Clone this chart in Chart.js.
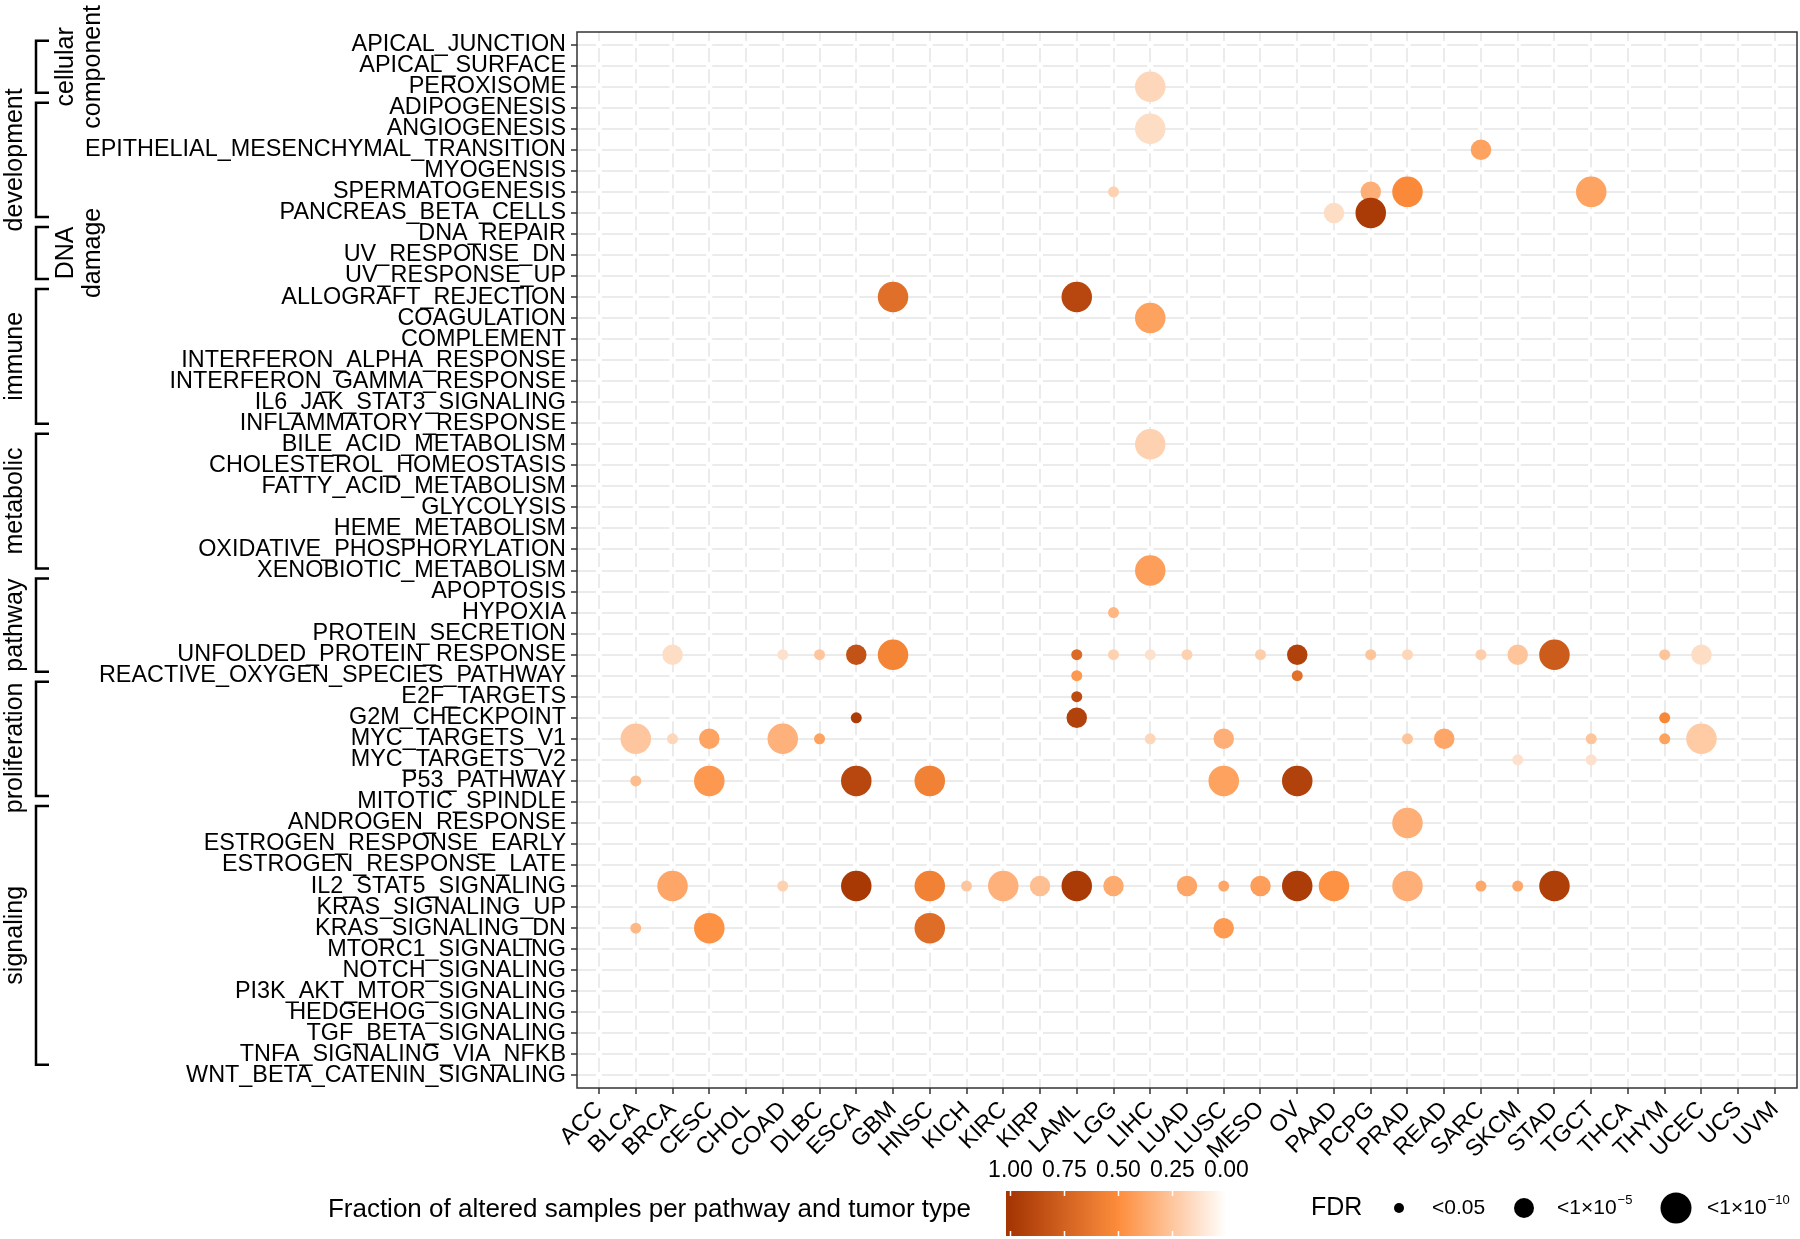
<!DOCTYPE html>
<html>
<head>
<meta charset="utf-8">
<script src="https://cdn.jsdelivr.net/npm/chart.js@4.4.1/dist/chart.umd.min.js"></script>
<style>
  html, body { margin: 0; padding: 0; background: #fff; }
  #chart { display: block; }
</style>
</head>
<body>
<canvas id="chart" width="1800" height="1239"></canvas>
<script>
const FONT = "'Liberation Sans', Arial, Helvetica, sans-serif";

const tumorTypes = ['ACC', 'BLCA', 'BRCA', 'CESC', 'CHOL', 'COAD', 'DLBC', 'ESCA', 'GBM', 'HNSC',
    'KICH', 'KIRC', 'KIRP', 'LAML', 'LGG', 'LIHC', 'LUAD', 'LUSC', 'MESO', 'OV', 'PAAD', 'PCPG',
    'PRAD', 'READ', 'SARC', 'SKCM', 'STAD', 'TGCT', 'THCA', 'THYM', 'UCEC', 'UCS', 'UVM'];

const pathways = ['APICAL_JUNCTION', 'APICAL_SURFACE', 'PEROXISOME', 'ADIPOGENESIS', 'ANGIOGENESIS',
    'EPITHELIAL_MESENCHYMAL_TRANSITION', 'MYOGENSIS', 'SPERMATOGENESIS', 'PANCREAS_BETA_CELLS',
    'DNA_REPAIR', 'UV_RESPONSE_DN', 'UV_RESPONSE_UP', 'ALLOGRAFT_REJECTION', 'COAGULATION',
    'COMPLEMENT', 'INTERFERON_ALPHA_RESPONSE', 'INTERFERON_GAMMA_RESPONSE', 'IL6_JAK_STAT3_SIGNALING',
    'INFLAMMATORY_RESPONSE', 'BILE_ACID_METABOLISM', 'CHOLESTEROL_HOMEOSTASIS', 'FATTY_ACID_METABOLISM',
    'GLYCOLYSIS', 'HEME_METABOLISM', 'OXIDATIVE_PHOSPHORYLATION', 'XENOBIOTIC_METABOLISM', 'APOPTOSIS',
    'HYPOXIA', 'PROTEIN_SECRETION', 'UNFOLDED_PROTEIN_RESPONSE', 'REACTIVE_OXYGEN_SPECIES_PATHWAY',
    'E2F_TARGETS', 'G2M_CHECKPOINT', 'MYC_TARGETS_V1', 'MYC_TARGETS_V2', 'P53_PATHWAY',
    'MITOTIC_SPINDLE', 'ANDROGEN_RESPONSE', 'ESTROGEN_RESPONSE_EARLY', 'ESTROGEN_RESPONSE_LATE',
    'IL2_STAT5_SIGNALING', 'KRAS_SIGNALING_UP', 'KRAS_SIGNALING_DN', 'MTORC1_SIGNALING',
    'NOTCH_SIGNALING', 'PI3K_AKT_MTOR_SIGNALING', 'HEDGEHOG_SIGNALING', 'TGF_BETA_SIGNALING',
    'TNFA_SIGNALING_VIA_NFKB', 'WNT_BETA_CATENIN_SIGNALING'];

// pathway groups, top to bottom
const groupNames = [['cellular', 'component'], ['development'], ['DNA', 'damage'], ['immune'],
    ['metabolic'], ['pathway'], ['proliferation'], ['signaling']];
const groupSizes = [3, 6, 3, 7, 7, 5, 6, 13];

const colorbarTicks = [1.00, 0.75, 0.50, 0.25, 0.00];
const fdrLegendText = ['<0.05', '<1\u00d710', '<1\u00d710'];
const fdrLegendExp = ['', '\u22125', '\u221210'];

// [tumor type, pathway, fraction of altered samples]
const fdrBelow005 = [
    ['LGG', 'SPERMATOGENESIS', 0.20],
    ['LGG', 'HYPOXIA', 0.32],
    ['COAD', 'UNFOLDED_PROTEIN_RESPONSE', 0.13],
    ['DLBC', 'UNFOLDED_PROTEIN_RESPONSE', 0.25],
    ['LAML', 'UNFOLDED_PROTEIN_RESPONSE', 0.70],
    ['LGG', 'UNFOLDED_PROTEIN_RESPONSE', 0.20],
    ['LIHC', 'UNFOLDED_PROTEIN_RESPONSE', 0.13],
    ['LUAD', 'UNFOLDED_PROTEIN_RESPONSE', 0.20],
    ['MESO', 'UNFOLDED_PROTEIN_RESPONSE', 0.22],
    ['PCPG', 'UNFOLDED_PROTEIN_RESPONSE', 0.26],
    ['PRAD', 'UNFOLDED_PROTEIN_RESPONSE', 0.18],
    ['SARC', 'UNFOLDED_PROTEIN_RESPONSE', 0.22],
    ['THYM', 'UNFOLDED_PROTEIN_RESPONSE', 0.26],
    ['LAML', 'REACTIVE_OXYGEN_SPECIES_PATHWAY', 0.45],
    ['OV', 'REACTIVE_OXYGEN_SPECIES_PATHWAY', 0.66],
    ['LAML', 'E2F_TARGETS', 0.88],
    ['ESCA', 'G2M_CHECKPOINT', 0.96],
    ['THYM', 'G2M_CHECKPOINT', 0.53],
    ['BRCA', 'MYC_TARGETS_V1', 0.18],
    ['DLBC', 'MYC_TARGETS_V1', 0.41],
    ['LIHC', 'MYC_TARGETS_V1', 0.18],
    ['PRAD', 'MYC_TARGETS_V1', 0.26],
    ['TGCT', 'MYC_TARGETS_V1', 0.26],
    ['THYM', 'MYC_TARGETS_V1', 0.41],
    ['SKCM', 'MYC_TARGETS_V2', 0.13],
    ['TGCT', 'MYC_TARGETS_V2', 0.13],
    ['BLCA', 'P53_PATHWAY', 0.29],
    ['COAD', 'IL2_STAT5_SIGNALING', 0.20],
    ['KICH', 'IL2_STAT5_SIGNALING', 0.25],
    ['LUSC', 'IL2_STAT5_SIGNALING', 0.39],
    ['SARC', 'IL2_STAT5_SIGNALING', 0.38],
    ['SKCM', 'IL2_STAT5_SIGNALING', 0.38],
    ['BLCA', 'KRAS_SIGNALING_DN', 0.31]
];

const fdrBelow1e5 = [
    ['SARC', 'EPITHELIAL_MESENCHYMAL_TRANSITION', 0.41],
    ['PCPG', 'SPERMATOGENESIS', 0.35],
    ['PAAD', 'PANCREAS_BETA_CELLS', 0.15],
    ['BRCA', 'UNFOLDED_PROTEIN_RESPONSE', 0.15],
    ['ESCA', 'UNFOLDED_PROTEIN_RESPONSE', 0.84],
    ['OV', 'UNFOLDED_PROTEIN_RESPONSE', 0.93],
    ['SKCM', 'UNFOLDED_PROTEIN_RESPONSE', 0.26],
    ['UCEC', 'UNFOLDED_PROTEIN_RESPONSE', 0.15],
    ['LAML', 'G2M_CHECKPOINT', 0.93],
    ['CESC', 'MYC_TARGETS_V1', 0.40],
    ['LUSC', 'MYC_TARGETS_V1', 0.35],
    ['READ', 'MYC_TARGETS_V1', 0.39],
    ['KIRP', 'IL2_STAT5_SIGNALING', 0.28],
    ['LGG', 'IL2_STAT5_SIGNALING', 0.37],
    ['LUAD', 'IL2_STAT5_SIGNALING', 0.39],
    ['MESO', 'IL2_STAT5_SIGNALING', 0.42],
    ['LUSC', 'KRAS_SIGNALING_DN', 0.44]
];

const fdrBelow1e10 = [
    ['LIHC', 'PEROXISOME', 0.18],
    ['LIHC', 'ANGIOGENESIS', 0.15],
    ['PRAD', 'SPERMATOGENESIS', 0.52],
    ['TGCT', 'SPERMATOGENESIS', 0.40],
    ['PCPG', 'PANCREAS_BETA_CELLS', 0.97],
    ['GBM', 'ALLOGRAFT_REJECTION', 0.67],
    ['LAML', 'ALLOGRAFT_REJECTION', 0.90],
    ['LIHC', 'COAGULATION', 0.41],
    ['LIHC', 'BILE_ACID_METABOLISM', 0.20],
    ['LIHC', 'XENOBIOTIC_METABOLISM', 0.42],
    ['GBM', 'UNFOLDED_PROTEIN_RESPONSE', 0.55],
    ['STAD', 'UNFOLDED_PROTEIN_RESPONSE', 0.78],
    ['BLCA', 'MYC_TARGETS_V1', 0.25],
    ['COAD', 'MYC_TARGETS_V1', 0.34],
    ['UCEC', 'MYC_TARGETS_V1', 0.23],
    ['CESC', 'P53_PATHWAY', 0.45],
    ['ESCA', 'P53_PATHWAY', 0.90],
    ['HNSC', 'P53_PATHWAY', 0.57],
    ['LUSC', 'P53_PATHWAY', 0.41],
    ['OV', 'P53_PATHWAY', 0.93],
    ['PRAD', 'ANDROGEN_RESPONSE', 0.35],
    ['BRCA', 'IL2_STAT5_SIGNALING', 0.39],
    ['ESCA', 'IL2_STAT5_SIGNALING', 0.99],
    ['HNSC', 'IL2_STAT5_SIGNALING', 0.57],
    ['KIRC', 'IL2_STAT5_SIGNALING', 0.34],
    ['LAML', 'IL2_STAT5_SIGNALING', 0.97],
    ['OV', 'IL2_STAT5_SIGNALING', 0.96],
    ['PAAD', 'IL2_STAT5_SIGNALING', 0.48],
    ['PRAD', 'IL2_STAT5_SIGNALING', 0.35],
    ['STAD', 'IL2_STAT5_SIGNALING', 0.95],
    ['CESC', 'KRAS_SIGNALING_DN', 0.48],
    ['HNSC', 'KRAS_SIGNALING_DN', 0.68]
];

const fdrRadius = [5.5, 10.25, 15.25];
const legendRadius = [5, 10, 15.5];

// white -> orange -> dark brown
const colorStops = [[0, [255, 255, 255]], [0.5, [253, 141, 60]], [1, [166, 54, 3]]];

function fractionColor(f) {
    for (let i = 1; i < colorStops.length; i++) {
        const [f0, c0] = colorStops[i - 1];
        const [f1, c1] = colorStops[i];
        if (f <= f1 || i === colorStops.length - 1) {
            const t = Math.max(0, Math.min(1, (f - f0) / (f1 - f0)));
            const c = c0.map((v, k) => Math.round(v + (c1[k] - v) * t));
            return `rgb(${c[0]}, ${c[1]}, ${c[2]})`;
        }
    }
}

const points = [fdrBelow005, fdrBelow1e5, fdrBelow1e10]
    .flatMap((list, cls) => list.map(([tumor, pathway, f]) => ({
        x: tumorTypes.indexOf(tumor),
        y: pathways.indexOf(pathway),
        r: fdrRadius[cls],
        f: f
    })))
    .sort((a, b) => a.y - b.y || a.x - b.x);

// grid lines in the reference are broken at every crossing
const gridGaps = {
    id: 'gridGaps',
    beforeDatasetsDraw(chart) {
        const { ctx, scales: { x, y } } = chart;
        ctx.save();
        ctx.fillStyle = '#ffffff';
        tumorTypes.forEach((_, i) => {
            const px = x.getPixelForValue(i);
            pathways.forEach((_, j) => {
                const py = y.getPixelForValue(j);
                ctx.fillRect(px - 3, py - 3.5, 6, 7);
            });
        });
        ctx.restore();
    }
};

const panelBorder = {
    id: 'panelBorder',
    afterDatasetsDraw(chart) {
        const { ctx, chartArea: a } = chart;
        ctx.save();
        ctx.strokeStyle = '#333333';
        ctx.lineWidth = 1.5;
        ctx.strokeRect(a.left, a.top, a.right - a.left, a.bottom - a.top);
        ctx.restore();
    }
};

const groupBrackets = {
    id: 'groupBrackets',
    afterDraw(chart) {
        const { ctx } = chart;
        const y = chart.scales.y;
        const labelNudge = { proliferation: 9 };
        ctx.save();
        ctx.strokeStyle = '#000';
        ctx.lineWidth = 2.5;
        ctx.fillStyle = '#000';
        ctx.font = `25px ${FONT}`;
        ctx.textAlign = 'center';
        ctx.textBaseline = 'alphabetic';
        let start = 0;
        groupSizes.forEach((n, g) => {
            const y0 = y.getPixelForValue(-0.42 + 0.983 * start) + 5;
            const y1 = y.getPixelForValue(-0.42 + 0.983 * (start + n)) - 5;
            ctx.beginPath();
            ctx.moveTo(49, y0);
            ctx.lineTo(36, y0);
            ctx.lineTo(36, y1);
            ctx.lineTo(49, y1);
            ctx.stroke();
            const lines = groupNames[g];
            const mid = (y0 + y1) / 2 + (labelNudge[lines[0]] || 0);
            const xs = lines.length === 1 ? [21.5] : [72.5, 100];
            lines.forEach((txt, k) => {
                ctx.save();
                ctx.translate(xs[k], mid);
                ctx.rotate(-Math.PI / 2);
                ctx.fillText(txt, 0, 0);
                ctx.restore();
            });
            start += n;
        });
        ctx.restore();
    }
};

const bottomLegends = {
    id: 'bottomLegends',
    afterDraw(chart) {
        const { ctx } = chart;
        ctx.save();
        ctx.fillStyle = '#000';

        // colour bar
        ctx.font = `26px ${FONT}`;
        ctx.textAlign = 'right';
        ctx.textBaseline = 'middle';
        ctx.fillText('Fraction of altered samples per pathway and tumor type', 971, 1210);

        const barLeft = 1006, barRight = 1230, barTop = 1191, barBottom = 1236;
        const xHigh = 1010.5, xLow = 1226.5;
        const grad = ctx.createLinearGradient(xHigh, 0, xLow, 0);
        for (let s = 0; s <= 20; s++) {
            grad.addColorStop(s / 20, fractionColor(1 - s / 20));
        }
        ctx.fillStyle = grad;
        ctx.fillRect(barLeft, barTop, barRight - barLeft, barBottom - barTop);

        ctx.strokeStyle = '#fff';
        ctx.lineWidth = 1.5;
        ctx.fillStyle = '#000';
        ctx.font = `23px ${FONT}`;
        ctx.textAlign = 'center';
        colorbarTicks.forEach(v => {
            const tx = xLow + (xHigh - xLow) * v;
            ctx.beginPath();
            ctx.moveTo(tx, barTop);
            ctx.lineTo(tx, barTop + 5);
            ctx.moveTo(tx, barBottom);
            ctx.lineTo(tx, barBottom - 5);
            ctx.stroke();
            ctx.fillText(v.toFixed(2), tx, 1171);
        });

        // FDR size legend
        ctx.font = `25px ${FONT}`;
        ctx.textAlign = 'left';
        ctx.fillText('FDR', 1311, 1208);
        const dotX = [1399, 1524, 1676];
        const textX = [1432, 1557, 1707];
        fdrLegendText.forEach((txt, i) => {
            ctx.beginPath();
            ctx.arc(dotX[i], 1208, legendRadius[i], 0, Math.PI * 2);
            ctx.fill();
            ctx.font = `21px ${FONT}`;
            ctx.fillText(txt, textX[i], 1208);
            if (fdrLegendExp[i]) {
                const w = ctx.measureText(txt).width;
                ctx.font = `13px ${FONT}`;
                ctx.fillText(fdrLegendExp[i], textX[i] + w + 1, 1200);
            }
        });
        ctx.restore();
    }
};

const axisFont = { family: FONT, size: 23.4 };

new Chart(document.getElementById('chart').getContext('2d'), {
    type: 'bubble',
    data: {
        datasets: [{
            data: points,
            backgroundColor: c => fractionColor(c.raw.f),
            borderWidth: 0,
            hoverRadius: 0
        }]
    },
    options: {
        responsive: false,
        animation: false,
        devicePixelRatio: 1,
        layout: { autoPadding: false, padding: { left: 0, right: 3, top: 32, bottom: 81 } },
        plugins: {
            legend: { display: false },
            tooltip: { enabled: false }
        },
        scales: {
            x: {
                type: 'linear',
                position: 'bottom',
                min: -0.6,
                max: tumorTypes.length - 0.4,
                afterBuildTicks: s => { s.ticks = tumorTypes.map((_, i) => ({ value: i })); },
                afterFit: s => {
                    s.height = 70;
                    s.paddingLeft = 0;
                    s.paddingRight = 0;
                },
                border: { display: false },
                grid: { color: '#ebebeb', lineWidth: 2, tickColor: '#333', tickLength: 6, tickWidth: 1.5 },
                ticks: {
                    autoSkip: false,
                    minRotation: 45,
                    maxRotation: 45,
                    padding: 2,
                    color: '#000',
                    font: axisFont,
                    callback: v => tumorTypes[v]
                }
            },
            y: {
                type: 'linear',
                reverse: true,
                min: -0.6,
                max: pathways.length - 0.4,
                afterBuildTicks: s => { s.ticks = pathways.map((_, i) => ({ value: i })); },
                afterFit: s => {
                    s.width = 577;
                    s.paddingTop = 0;
                    s.paddingBottom = 0;
                },
                border: { display: false },
                grid: { color: '#ebebeb', lineWidth: 2, tickColor: '#333', tickLength: 6, tickWidth: 1.5 },
                ticks: {
                    autoSkip: false,
                    padding: 5,
                    color: '#000',
                    font: axisFont,
                    callback: v => pathways[v]
                }
            }
        }
    },
    plugins: [gridGaps, panelBorder, groupBrackets, bottomLegends]
});
</script>
</body>
</html>
